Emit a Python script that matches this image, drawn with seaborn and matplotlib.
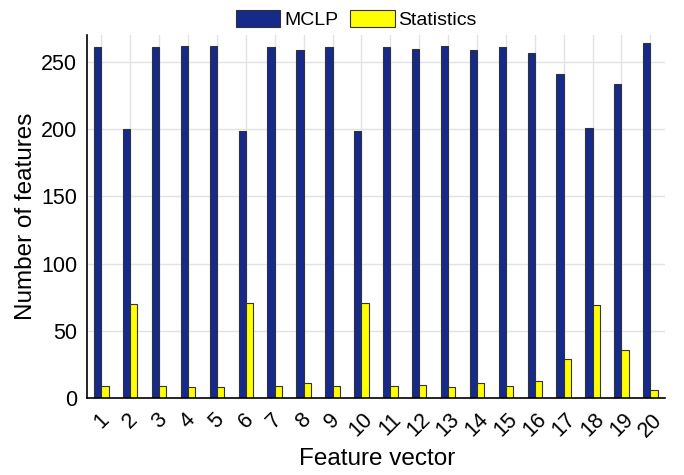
import numpy as np
import pandas as pd
import seaborn as sns
import matplotlib
matplotlib.use("Agg")
import matplotlib.pyplot as plt

features = [str(i) for i in range(1, 21)]
mclp = [261, 200, 261, 262, 262, 199, 261, 259, 261, 199,
        261, 260, 262, 259, 261, 257, 241, 201, 234, 264]
statistics = [9, 70, 9, 8, 8, 71, 9, 11, 9, 71,
              9, 10, 8, 11, 9, 13, 29, 69, 36, 6]
methods = ["MCLP", "Statistics"]
colors = ["#152a8a", "#ffff00"]

df = pd.DataFrame({
    "Feature": features * 2,
    "Count": mclp + statistics,
    "Method": [methods[0]] * len(features) + [methods[1]] * len(features),
})

sns.set_theme(style="white")
plt.rcParams["font.family"] = ["Liberation Sans", "DejaVu Sans"]
plt.rcParams["text.color"] = "black"

fig = plt.figure(figsize=(6.84, 4.75), dpi=100)
ax = fig.add_axes([0.127, 0.162, 0.845, 0.764])
ax.set_axisbelow(True)
sns.barplot(data=df, x="Feature", y="Count", hue="Method", order=features,
            hue_order=methods, palette=colors, width=0.5, saturation=1,
            edgecolor="#333333", linewidth=0.8, ax=ax)

ax.set_xlim(-0.5, 19.5)
ax.set_ylim(0, 270)
ax.set_yticks([0, 50, 100, 150, 200, 250])
ax.grid(True, color="#e3e3e3", linewidth=1.0)
for s in ["top", "right"]:
    ax.spines[s].set_visible(False)
for s in ["left", "bottom"]:
    ax.spines[s].set_color("black")
    ax.spines[s].set_linewidth(1.2)
ax.tick_params(axis="x", direction="in", length=4, width=1, colors="black",
               labelsize=15.5, rotation=45, pad=8)
ax.tick_params(axis="y", direction="in", length=0, labelsize=15.5, colors="black", pad=7)
for lab in ax.get_xticklabels():
    lab.set_ha("center")
ax.set_xlabel("Feature vector", fontsize=17.5, color="black")
ax.xaxis.set_label_coords(0.5026, -0.139)
ax.set_ylabel("Number of features", fontsize=17.5, color="black", labelpad=3)

h, l = ax.get_legend_handles_labels()
ax.legend(h, l, loc="lower center", bbox_to_anchor=(0.466, 0.99), ncol=2,
          frameon=False, fontsize=14, handlelength=2.3, handleheight=1.0,
          columnspacing=0.6, handletextpad=0.2, borderaxespad=0.1,
          labelcolor="black")

fig.savefig("out.png", dpi=100)
